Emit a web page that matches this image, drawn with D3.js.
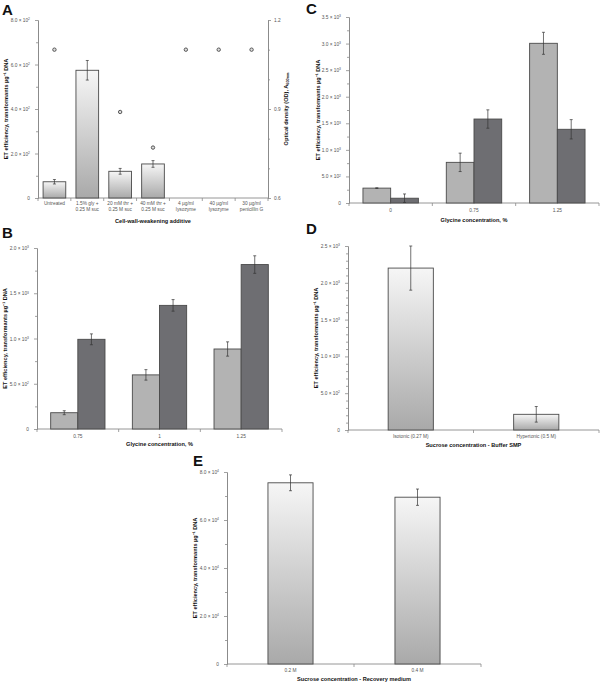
<!DOCTYPE html>
<html><head><meta charset="utf-8">
<script src="https://cdn.jsdelivr.net/npm/d3@7"></script>
<style>
body{margin:0;background:#fff;}
svg{display:block;font-family:"Liberation Sans",Arial,sans-serif;}
</style></head>
<body>
<svg id="c" width="600" height="683"></svg>
<script>
// ---------- DATA ----------
// Panel A
const aCategories = ["Untreated","1.5% gly +|0.25 M suc","20 mM thr +|0.25 M suc","40 mM thr +|0.25 M suc","4 µg/ml|lysozyme","40 µg/ml|lysozyme","30 µg/ml|penicillin G"];
const aEfficiency = [73, 574, 120, 153, null, null, null];
const aEfficiencyErr = [10, 44, 13, 15, null, null, null];
const aOD = [1.1, null, 0.89, 0.77, 1.1, 1.1, 1.1];
const aTicks = [0, 200, 400, 600, 800];
const aOdTicks = [0.6, 0.9, 1.2];
// Panel B
const bCategories = ["0.75","1","1.25"];
const bLight = [180, 598, 884];
const bLightErr = [22, 58, 79];
const bDark = [991, 1366, 1817];
const bDarkErr = [60, 64, 97];
const bTicks = [0, 500, 1000, 1500, 2000];
// Panel C
const cCategories = ["0","0.75","1.25"];
const cLight = [280, 765, 3005];
const cLightErr = [6, 173, 207];
const cDark = [90, 1580, 1387];
const cDarkErr = [80, 173, 182];
const cTicks = [0, 500, 1000, 1500, 2000, 2500, 3000, 3500];
// Panel D
const dCategories = ["Isotonic (0.27 M)","Hypertonic (0.5 M)"];
const dValues = [2200, 213];
const dErr = [300, 106];
const dTicks = [0, 500, 1000, 1500, 2000, 2500];
// Panel E
const eCategories = ["0.2 M","0.4 M"];
const eValues = [75500, 69500];
const eErr = [3300, 3400];
const eTicks = [0, 20000, 40000, 60000, 80000];

const yTitleText = "ET efficiency, transformants µg⁻¹ DNA";

// ---------- DRAW ----------
const svg = d3.select("#c");
const FONT = '"Liberation Sans",Arial,sans-serif';
const AX = "#8a8a8a";

const defs = svg.append("defs");
const grad = defs.append("linearGradient").attr("id","gBar").attr("x1",0).attr("y1",0).attr("x2",0).attr("y2",1);
grad.append("stop").attr("offset","0%").attr("stop-color","#f6f6f6");
grad.append("stop").attr("offset","100%").attr("stop-color","#a9a9a9");

function sciParts(v){
  if (v === 0) return ["0", null];
  const e = Math.floor(Math.log10(v) + 1e-9);
  const m = v / Math.pow(10, e);
  return [m.toFixed(1) + " × 10", String(e)];
}

function styleAxis(g){
  g.select(".domain").attr("stroke", AX).attr("stroke-width", 0.9);
  g.selectAll(".tick line").attr("stroke", AX).attr("stroke-width", 0.8);
  g.selectAll("text").attr("fill", "#555").attr("font-family", FONT).attr("font-size", 4.8);
}

function panelLetter(t, x, y){
  svg.append("text").attr("x", x).attr("y", y).text(t)
    .attr("font-family", FONT).attr("font-weight", "bold").attr("font-size", 15).attr("fill", "#111");
}

function drawPanel(o){
  const g = svg.append("g");
  const pad = o.pad;
  const x = d3.scaleBand().domain(o.cats).range([o.left, o.right]).paddingInner(pad).paddingOuter(pad/2);
  const y = d3.scaleLinear().domain([0, o.yMax]).range([o.bottom, o.top]);

  // minor y ticks
  const minors = d3.range(o.minorStep, o.yMax, o.minorStep).filter(v => !o.ticks.includes(v) && Math.abs(v % (o.ticks[1]-o.ticks[0])) > 1e-9);
  g.append("g").attr("transform", `translate(${o.left},0)`)
    .call(d3.axisLeft(y).tickValues(minors).tickSize(2).tickFormat("").tickSizeOuter(0))
    .call(styleAxis);
  // major y ticks
  const ya = g.append("g").attr("transform", `translate(${o.left},0)`)
    .call(d3.axisLeft(y).tickValues(o.ticks).tickSize(3).tickPadding(5).tickSizeOuter(0))
    .call(styleAxis);
  ya.selectAll(".tick text").each(function(d){
    const t = d3.select(this); t.text(null);
    const [base, sup] = sciParts(d);
    t.append("tspan").text(base);
    if (sup) t.append("tspan").text(sup).attr("font-size", 3.4).attr("dy", -1.8);
  });

  // x axis
  const xa = g.append("g").attr("transform", `translate(0,${o.bottom})`)
    .call(d3.axisBottom(x).tickSize(0).tickPadding(o.labelPad).tickSizeOuter(0))
    .call(styleAxis);
  xa.select(".domain").attr("d", `M${o.left},0H${o.right}`);
  xa.selectAll(".tick text").each(function(d){
    const t = d3.select(this); t.text(null);
    const lines = d.split("|");
    lines.forEach((ln, i) => t.append("tspan").attr("x", 0).attr("dy", i === 0 ? "0.71em" : "1.25em").text(ln));
  });
  // category boundary ticks
  const bounds = d3.range(o.cats.length + 1).map(i => o.left + i * x.step());
  g.append("g").selectAll("line").data(bounds).join("line")
    .attr("x1", d => d).attr("x2", d => d).attr("y1", o.bottom).attr("y2", o.bottom + 3)
    .attr("stroke", AX).attr("stroke-width", 0.8);

  // bars
  const series = o.series;
  const xs = d3.scaleBand().domain(series.map((s, i) => i)).range([0, x.bandwidth()]);
  series.forEach((s, si) => {
    const data = o.cats.map((c, i) => ({c, v: s.values[i], e: s.err[i]})).filter(d => d.v != null);
    g.append("g").selectAll("rect").data(data).join("rect")
      .attr("x", d => x(d.c) + xs(si)).attr("width", xs.bandwidth())
      .attr("y", d => y(d.v)).attr("height", d => y(0) - y(d.v))
      .attr("fill", s.fill).attr("stroke", "#4a4a4a").attr("stroke-width", 0.9);
    const eb = g.append("g").selectAll("g").data(data).join("g")
      .attr("transform", d => `translate(${x(d.c) + xs(si) + xs.bandwidth()/2},0)`);
    eb.append("line").attr("y1", d => y(d.v - d.e)).attr("y2", d => y(d.v + d.e))
      .attr("stroke", "#333").attr("stroke-width", 0.7);
    eb.append("line").attr("x1", -1.5).attr("x2", 1.5).attr("y1", d => y(d.v + d.e)).attr("y2", d => y(d.v + d.e))
      .attr("stroke", "#333").attr("stroke-width", 0.7);
    eb.append("line").attr("x1", -1.5).attr("x2", 1.5).attr("y1", d => y(d.v - d.e)).attr("y2", d => y(d.v - d.e))
      .attr("stroke", "#333").attr("stroke-width", 0.7);
  });

  // titles
  g.append("text").attr("x", (o.left + o.right)/2).attr("y", o.xTitleY).attr("text-anchor", "middle")
    .attr("font-family", FONT).attr("font-weight", "bold").attr("font-size", 5.6).attr("fill", "#111").text(o.xTitle);
  g.append("text").attr("transform", `translate(${o.yTitleX},${(o.top + o.bottom)/2}) rotate(-90)`)
    .attr("text-anchor", "middle").attr("dy", "0.35em")
    .attr("font-family", FONT).attr("font-weight", "bold").attr("font-size", 5.6).attr("fill", "#111").text(yTitleText);

  return {x, y, g};
}

// Panel A
const pA = drawPanel({left: 38, right: 268, bottom: 198, top: 20, yMax: 800, ticks: aTicks, minorStep: 100,
  cats: aCategories, pad: 0.31, labelPad: 4,
  series: [{values: aEfficiency, err: aEfficiencyErr, fill: "url(#gBar)"}],
  xTitle: "Cell-wall-weakening additive", xTitleY: 223, yTitleX: 6});
const yOD = d3.scaleLinear().domain([0.6, 1.2]).range([198, 20]);
const ra = pA.g.append("g").attr("transform", "translate(268,0)")
  .call(d3.axisRight(yOD).tickValues([0.7, 0.8, 1.0, 1.1]).tickSize(2).tickFormat("").tickSizeOuter(0)).call(styleAxis);
const rb = pA.g.append("g").attr("transform", "translate(268,0)")
  .call(d3.axisRight(yOD).tickValues(aOdTicks).tickSize(3).tickPadding(3).tickSizeOuter(0).tickFormat(d3.format(".1f"))).call(styleAxis);
pA.g.append("g").selectAll("circle").data(aCategories.map((c, i) => ({c, v: aOD[i]})).filter(d => d.v != null)).join("circle")
  .attr("cx", d => pA.x(d.c) + pA.x.bandwidth()/2).attr("cy", d => yOD(d.v)).attr("r", 1.7)
  .attr("fill", "#ddd").attr("stroke", "#555").attr("stroke-width", 1);
const odT = pA.g.append("text").attr("transform", `translate(286,109) rotate(-90)`).attr("text-anchor", "middle").attr("dy", "0.35em")
  .attr("font-family", FONT).attr("font-weight", "bold").attr("font-size", 5.6).attr("fill", "#111");
odT.append("tspan").text("Optical density (OD), A");
odT.append("tspan").text("600nm").attr("font-size", 3.8).attr("dy", 1.5);

// Panel B
drawPanel({left: 37, right: 282, bottom: 429, top: 248, yMax: 2000, ticks: bTicks, minorStep: 250,
  cats: bCategories, pad: 0.335, labelPad: 6,
  series: [{values: bLight, err: bLightErr, fill: "#b3b3b3"}, {values: bDark, err: bDarkErr, fill: "#6e6e72"}],
  xTitle: "Glycine concentration, %", xTitleY: 446, yTitleX: 5});

// Panel C
drawPanel({left: 349, right: 599, bottom: 203, top: 17, yMax: 3500, ticks: cTicks, minorStep: 250,
  cats: cCategories, pad: 0.335, labelPad: 6,
  series: [{values: cLight, err: cLightErr, fill: "#b3b3b3"}, {values: cDark, err: cDarkErr, fill: "#6e6e72"}],
  xTitle: "Glycine concentration, %", xTitleY: 222, yTitleX: 318});

// Panel D
drawPanel({left: 348, right: 599, bottom: 430, top: 246, yMax: 2500, ticks: dTicks, minorStep: 100,
  cats: dCategories, pad: 0.64, labelPad: 5,
  series: [{values: dValues, err: dErr, fill: "url(#gBar)"}],
  xTitle: "Sucrose concentration - Buffer SMP", xTitleY: 447, yTitleX: 316.5});

// Panel E
drawPanel({left: 227, right: 481, bottom: 664, top: 472, yMax: 80000, ticks: eTicks, minorStep: 10000,
  cats: eCategories, pad: 0.645, labelPad: 5,
  series: [{values: eValues, err: eErr, fill: "url(#gBar)"}],
  xTitle: "Sucrose concentration - Recovery medium", xTitleY: 681, yTitleX: 195});

panelLetter("A", 2, 15);
panelLetter("B", 2, 238);
panelLetter("C", 306, 14);
panelLetter("D", 306, 234);
panelLetter("E", 193, 466);
</script>
</body></html>
